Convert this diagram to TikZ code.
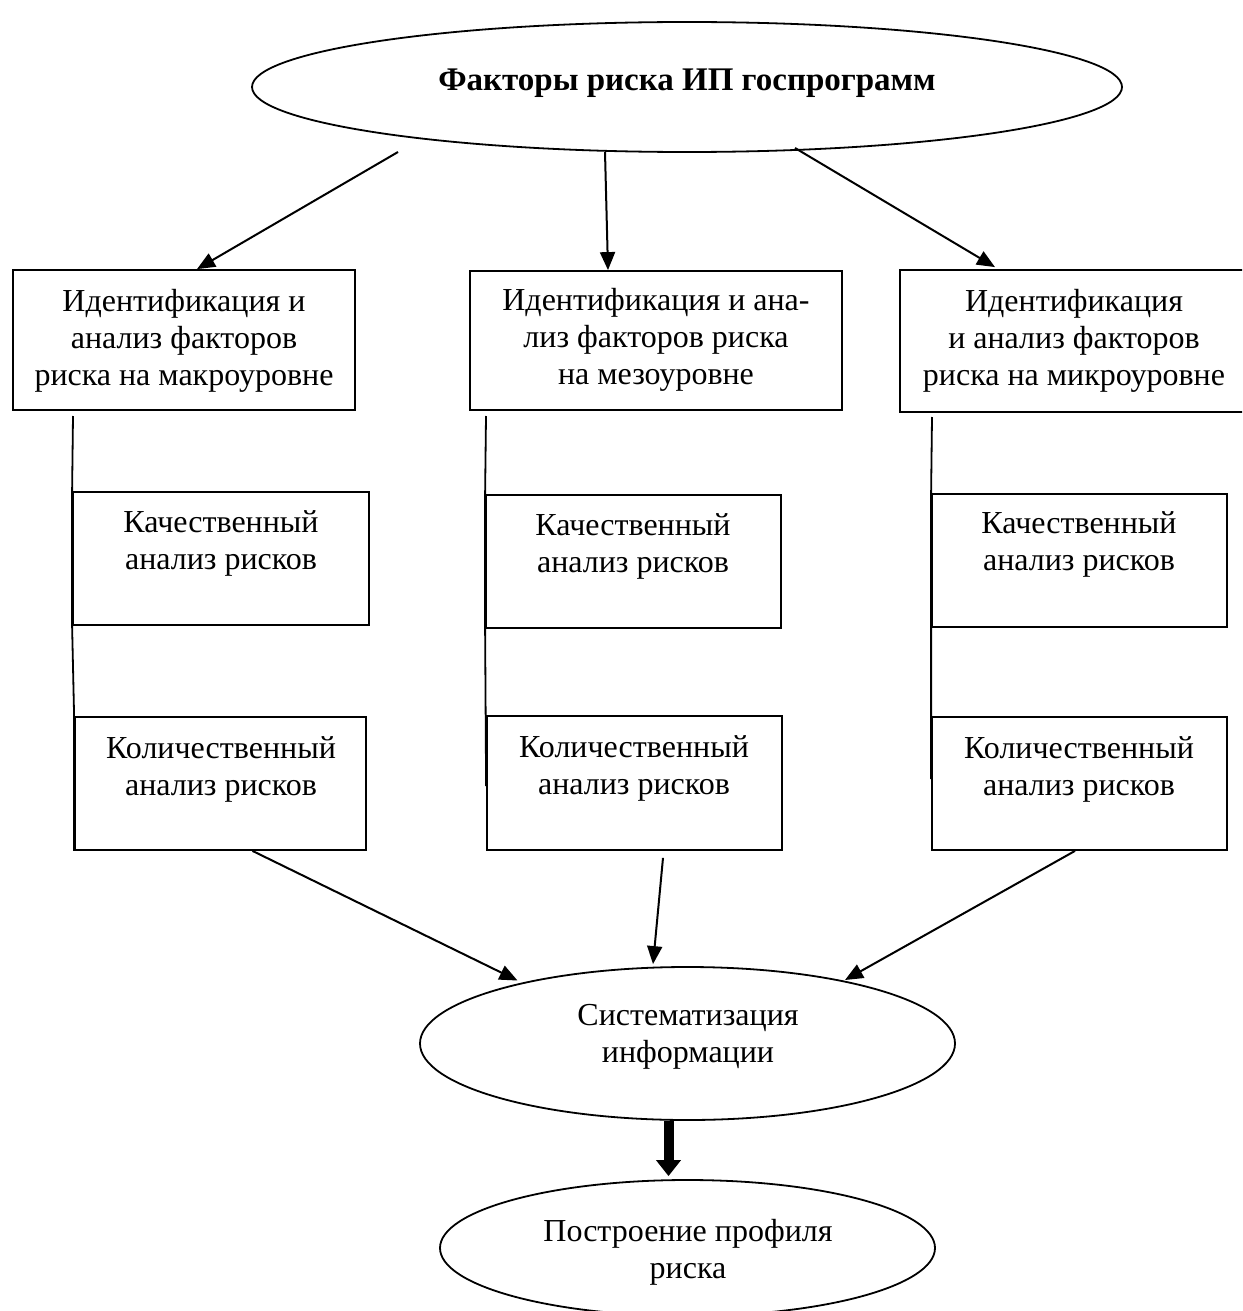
\documentclass[tikz,border=0pt]{standalone}
\usepackage{fontspec}
\setmainfont{Liberation Serif}
\usetikzlibrary{arrows.meta,shapes.geometric,fit,calc}
\begin{document}
\begin{tikzpicture}[x=0.5pt,y=-0.5pt,
  box/.style={draw, line width=0.9pt, inner sep=0pt},
  txt/.style={align=center, inner sep=0pt, font=\fontsize{16}{18.5}\selectfont},
  oval/.style={draw, ellipse, line width=0.9pt, inner sep=0pt},
  arr/.style={line width=1pt, -{Triangle[length=9pt,width=7.5pt]}},
  conn/.style={line width=0.9pt},
  fatarr/.style={line width=5pt, -{Triangle[length=8pt,width=12pt]}}]
\useasboundingbox (0,0) rectangle (1242,1311);
\clip (0,0) rectangle (1242,1311);

% top ellipse
\node[oval, minimum width=435pt, minimum height=65pt] (top) at (687,87) {};
\node[txt, font=\fontsize{16.5}{19}\selectfont\bfseries] (toptxt) at (687,83) {Факторы риска ИП госпрограмм};

% identification boxes
\node[box, fit={(13,270) (355,410)}] (i1) {};
\node[txt] (i1t) at (184,341) {Идентификация и\\анализ факторов\\риска на макроуровне};
\node[box, fit={(470,271) (842,410)}] (i2) {};
\node[txt] (i2t) at (656,340) {Идентификация и ана-\\лиз факторов риска\\на мезоуровне};
\node[box, fit={(900,270) (1248,412)}] (i3) {};
\node[txt] (i3t) at (1074,341) {Идентификация\\и анализ факторов\\риска на микроуровне};

% qualitative boxes
\node[box, fit={(73,492) (369,625)}] (k1) {};
\node[txt] (k1t) at (221,543) {Качественный\\анализ рисков};
\node[box, fit={(486,495) (781,628)}] (k2) {};
\node[txt] (k2t) at (633,546) {Качественный\\анализ рисков};
\node[box, fit={(932,494) (1227,627)}] (k3) {};
\node[txt] (k3t) at (1079,544) {Качественный\\анализ рисков};

% quantitative boxes
\node[box, fit={(75,717) (366,850)}] (q1) {};
\node[txt] (q1t) at (221,769) {Количественный\\анализ рисков};
\node[box, fit={(487,716) (782,850)}] (q2) {};
\node[txt] (q2t) at (634,768) {Количественный\\анализ рисков};
\node[box, fit={(932,717) (1227,850)}] (q3) {};
\node[txt] (q3t) at (1079,769) {Количественный\\анализ рисков};

% lower ellipses
\node[oval, minimum width=267.5pt, minimum height=76.5pt] (sys) at (687.5,1043.5) {};
\node[txt] (syst) at (688,1037) {Систематизация\\информации};
\node[oval, minimum width=247.5pt, minimum height=68pt] (prof) at (687.5,1248) {};
\node[txt] (proft) at (688,1252) {Построение профиля\\риска};

% vertical connector lines
\coordinate (v1) at (73,416);
\coordinate (v2) at (486,416);
\coordinate (v3) at (932,417);
\draw[conn] (v1) -- (k1.north west) -- (k1.south west) -- (q1.north west) -- (q1.south west);
\draw[conn] (v2) -- (k2.north west) -- (k2.south west) -- ($(q2.north west)+(0,71)$);
\draw[conn] (v3) -- (k3.north west) -- (k3.south west) -- ($(q3.north west)+(0,63)$);

% arrows from top ellipse
\draw[arr] ($(top.center)+(-289,65)$) -- ($(i1.north)+(13,0)$);
\draw[arr] ($(top.center)+(-82,65)$) -- ($(i2.north)+(-48,0)$);
\draw[arr] ($(top.center)+(108,61)$) -- ($(i3.north)+(-79,-2)$);

% arrows into systematization
\draw[arr] ($(q1.south)+(32,0)$) -- ($(sys.center)+(-170,-63)$);
\draw[arr] ($(q2.south)+(28.5,7)$) -- ($(sys.north)+(-34.5,-2)$);
\draw[arr] ($(q3.south)+(-4.5,0)$) -- ($(sys.center)+(157.5,-63.5)$);

% thick arrow
\draw[fatarr] ($(sys.south)+(-19,0)$) -- ($(prof.north)+(-19,-3)$);
\end{tikzpicture}
\end{document}
